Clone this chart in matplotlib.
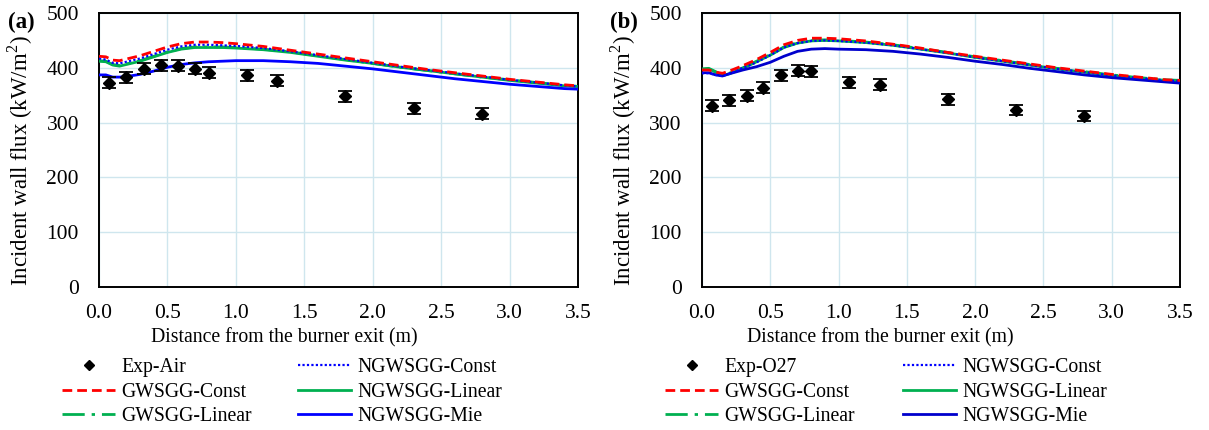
import matplotlib
matplotlib.use("Agg")
import matplotlib.pyplot as plt
from matplotlib.lines import Line2D

plt.rcParams["font.family"] = ["Liberation Serif", "DejaVu Serif"]
plt.rcParams["mathtext.fontset"] = "custom"
plt.rcParams["mathtext.rm"] = "Liberation Serif"
plt.rcParams["font.size"] = 14

# measured data (estimated from the figure)
exp_x = [0.07, 0.20, 0.33, 0.45, 0.58, 0.70, 0.80, 1.08, 1.30, 1.80, 2.30, 2.80]
exp_air = [373, 383, 398, 405, 404, 398, 391, 386, 376, 348, 326, 316]
exp_o27 = [331, 341, 349, 364, 386, 395, 394, 374, 369, 343, 323, 312]
exp_err = 10

# model curves
x_sim = [0, 0.05, 0.1, 0.15, 0.2, 0.3, 0.4, 0.5, 0.6, 0.7, 0.8, 0.9, 1.0,
         1.2, 1.4, 1.6, 1.8, 2.0, 2.2, 2.4, 2.6, 2.8, 3.0, 3.2, 3.4, 3.5]

air_gwsgg_const = [421, 420, 414, 413, 416, 422, 430, 438, 444, 447, 447, 446, 444,
                   439, 432, 425, 418, 411, 404, 397, 391, 385, 379, 374, 369, 367]
air_gwsgg_linear = [413, 412, 406, 404, 407, 413, 421, 429, 435, 438, 438, 438, 437,
                    434, 429, 422, 415, 408, 401, 395, 389, 383, 378, 373, 368, 366]
air_ngwsgg_const = [417, 415, 409, 408, 411, 417, 425, 433, 439, 442, 442, 441, 440,
                    436, 430, 423, 416, 409, 402, 396, 390, 384, 378, 373, 368, 366]
air_ngwsgg_linear = [412, 411, 405, 403, 406, 412, 420, 428, 434, 437, 437, 437, 436,
                     433, 428, 421, 414, 408, 401, 395, 389, 383, 377, 372, 367, 366]
air_ngwsgg_mie = [387, 387, 383, 383, 384, 388, 394, 401, 406, 409, 411, 412, 413,
                  413, 411, 408, 403, 398, 392, 386, 380, 375, 370, 366, 362, 361]

o27_gwsgg_const = [396, 396, 392, 390, 394, 404, 415, 428, 442, 450, 454, 454, 453,
                   449, 443, 436, 428, 421, 414, 407, 400, 394, 388, 383, 378, 377]
o27_gwsgg_linear = [398, 399, 393, 387, 390, 400, 412, 424, 438, 446, 450, 451, 450,
                    447, 442, 435, 428, 420, 413, 406, 399, 393, 387, 382, 378, 377]
o27_ngwsgg_const = [390, 390, 387, 385, 389, 400, 410, 423, 437, 445, 449, 450, 449,
                    446, 441, 434, 427, 419, 412, 405, 398, 392, 386, 381, 377, 376]
o27_ngwsgg_linear = [397, 398, 392, 386, 389, 399, 411, 423, 437, 445, 449, 450, 449,
                     446, 441, 434, 427, 419, 412, 405, 398, 392, 386, 381, 377, 376]
o27_ngwsgg_mie = [391, 391, 387, 385, 389, 396, 402, 410, 421, 430, 434, 435, 434,
                  433, 430, 425, 419, 412, 406, 399, 393, 387, 382, 378, 374, 372]

x_ticks = [0.0, 0.5, 1.0, 1.5, 2.0, 2.5, 3.0, 3.5]
y_ticks = [0, 100, 200, 300, 400, 500]

RED = "#ff0000"
GREEN = "#00b050"
BLUE = "#0000ff"
GRID = "#cfe6ee"

fig = plt.figure(figsize=(12.09, 4.30), dpi=100)


def draw_panel(ax, exp_y, exp_label, curves, mie_color, xlabel_x):
    gc, gl, nc, nl, nm = curves
    ax.plot(x_sim, nl, color=GREEN, lw=2.0, zorder=3)
    ax.plot(x_sim, gl, color=GREEN, lw=2.0, dashes=(8, 2.5, 1.2, 2.5), zorder=3)
    ax.plot(x_sim, nc, color=BLUE, lw=1.6, ls=(0, (1, 1)), zorder=4)
    ax.plot(x_sim, gc, color=RED, lw=2.0, ls=(0, (3.5, 1.8)), zorder=4)
    ax.plot(x_sim, nm, color=mie_color, lw=2.0, zorder=3)
    ax.errorbar(exp_x, exp_y, yerr=exp_err, fmt="D", color="black", ms=6,
                capsize=5, elinewidth=1.3, capthick=1.3, zorder=5)

    ax.set_xlim(0, 3.5)
    ax.set_ylim(0, 500)
    ax.set_xticks(x_ticks)
    ax.set_xticklabels([f"{v:.1f}" for v in x_ticks])
    ax.set_yticks(y_ticks)
    ax.tick_params(length=0, labelsize=15.5)
    ax.tick_params(axis="x", pad=12)
    ax.tick_params(axis="y", pad=14.5)
    ax.grid(True, color=GRID, lw=1.0)
    ax.set_axisbelow(True)
    for sp in ax.spines.values():
        sp.set_linewidth(1.4)
        sp.set_color("black")
    ax.set_xlabel("Distance from the burner exit (m)", fontsize=14.2)
    ax.xaxis.set_label_coords(xlabel_x, -51 / 274, transform=ax.transAxes)
    ax.xaxis.label.set_va("center")
    ax.set_ylabel("Incident wall flux (kW/m$^2$)", fontsize=16.5, va="center")
    ax.yaxis.set_label_coords(-0.164, 0.462)

    handles = [
        Line2D([], [], ls="none", marker="D", color="black", ms=5),
        Line2D([], [], color=RED, lw=2.0, ls=(0, (3.5, 1.8))),
        Line2D([], [], color=GREEN, lw=2.0, dashes=(8, 2.5, 1.2, 2.5)),
        Line2D([], [], color=BLUE, lw=1.6, ls=(0, (1, 1))),
        Line2D([], [], color=GREEN, lw=2.0),
        Line2D([], [], color=mie_color, lw=2.0),
    ]
    labels = [exp_label, "GWSGG-Const", "GWSGG-Linear",
              "NGWSGG-Const", "NGWSGG-Linear", "NGWSGG-Mie"]
    return handles, labels


leg_kw = dict(ncol=2, loc="upper left", frameon=False, handlelength=2.7,
              handletextpad=0.3, labelspacing=0.28, borderpad=0,
              borderaxespad=0, fontsize=14.2)

ax1 = fig.add_axes([0.0819, 0.3326, 0.3962, 0.6372])
h, l = draw_panel(ax1, exp_air, "Exp-Air",
                  [air_gwsgg_const, air_gwsgg_linear, air_ngwsgg_const,
                   air_ngwsgg_linear, air_ngwsgg_mie], "#0000ff", 0.386)
fig.legend(h, l, bbox_to_anchor=(62 / 1209, 1 - 358 / 430), columnspacing=2.35, **leg_kw)

ax2 = fig.add_axes([0.5806, 0.3326, 0.3954, 0.6372])
h, l = draw_panel(ax2, exp_o27, "Exp-O27",
                  [o27_gwsgg_const, o27_gwsgg_linear, o27_ngwsgg_const,
                   o27_ngwsgg_linear, o27_ngwsgg_mie], "#0000cc", 0.374)
fig.legend(h, l, bbox_to_anchor=(665 / 1209, 1 - 358 / 430), columnspacing=2.45, **leg_kw)

fig.text(8 / 1209, 1 - 22 / 430, "(a)", fontsize=16.5, fontweight="bold", va="center")
fig.text(610 / 1209, 1 - 22 / 430, "(b)", fontsize=16.5, fontweight="bold", va="center")

fig.savefig("out.png", dpi=100)
